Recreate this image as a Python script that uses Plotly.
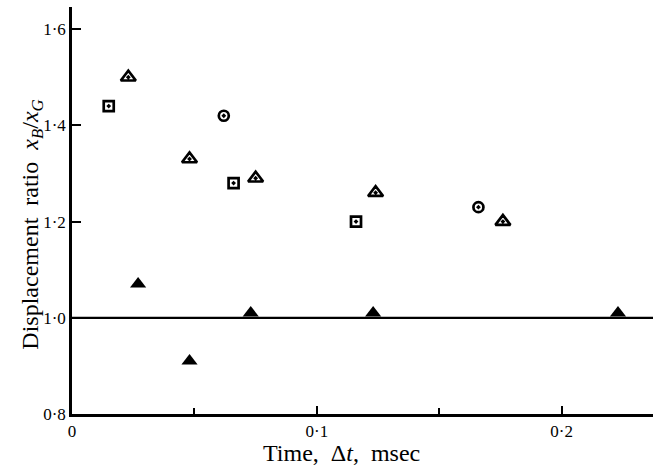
import plotly.graph_objects as go

# Data
tri_open_x = [0.023, 0.048, 0.075, 0.124, 0.176]
tri_open_y = [1.50, 1.33, 1.29, 1.26, 1.20]
sq_x = [0.015, 0.066, 0.116]
sq_y = [1.44, 1.28, 1.20]
circ_x = [0.062, 0.166]
circ_y = [1.42, 1.23]
tri_fill_x = [0.027, 0.048, 0.073, 0.123, 0.223]
tri_fill_y = [1.07, 0.91, 1.01, 1.01, 1.01]

x_ticks = [0, 0.1, 0.2]
x_ticklabels = ["0", "0·1", "0·2"]
y_ticks = [0.8, 1.0, 1.2, 1.4, 1.6]
y_ticklabels = ["0·8", "1·0", "1·2", "1·4", "1·6"]
x_minor = [0.05, 0.15]
ref_level = 1.0

XMAX = 0.2373
YMIN, YMAX = 0.8, 1.646
FONT = "Liberation Serif"
SP = "\u2002"

fig = go.Figure()
mk_line = dict(color="black", width=2.7)
fig.add_trace(go.Scatter(x=tri_open_x, y=tri_open_y, mode="markers",
                         marker=dict(symbol="triangle-up-open-dot", size=13, color="black", line=mk_line)))
fig.add_trace(go.Scatter(x=sq_x, y=sq_y, mode="markers",
                         marker=dict(symbol="square-open-dot", size=10, color="black", line=mk_line)))
fig.add_trace(go.Scatter(x=circ_x, y=circ_y, mode="markers",
                         marker=dict(symbol="circle-open-dot", size=10, color="black", line=mk_line)))
fig.add_trace(go.Scatter(x=tri_fill_x, y=tri_fill_y, mode="markers",
                         marker=dict(symbol="triangle-up", size=14, color="black", line=dict(width=0))))

fig.add_shape(type="line", xref="x", yref="y", x0=0, x1=XMAX, y0=ref_level, y1=ref_level,
              line=dict(color="black", width=2.2))

fig.update_layout(
    width=653, height=466,
    margin=dict(l=72, r=0, t=7, b=52),
    paper_bgcolor="white", plot_bgcolor="white",
    showlegend=False,
    font=dict(family=FONT, size=17, color="black"),
    xaxis=dict(range=[0, XMAX], showgrid=False, zeroline=False,
               showline=True, linecolor="black", linewidth=2.5,
               tickmode="array", tickvals=x_ticks, ticktext=x_ticklabels,
               ticks="inside", ticklen=8, tickwidth=2, tickcolor="black",
               tickfont=dict(family=FONT, size=17),
               minor=dict(tickmode="array", tickvals=x_minor, ticks="inside",
                          ticklen=6, tickwidth=1.5, tickcolor="black", showgrid=False)),
    yaxis=dict(range=[YMIN, YMAX], showgrid=False, zeroline=False,
               showline=True, linecolor="black", linewidth=2.5,
               tickmode="array", tickvals=y_ticks, ticktext=y_ticklabels,
               ticks="inside", ticklen=9, tickwidth=2, tickcolor="black",
               tickfont=dict(family=FONT, size=17)),
)

fig.add_annotation(xref="paper", yref="paper", x=0.463, y=-0.097,
                   text=f"Time,{SP}Δ<i>t</i>,{SP}msec", showarrow=False,
                   xanchor="center", yanchor="middle",
                   font=dict(family=FONT, size=24))
fig.add_annotation(xref="paper", yref="paper", x=-0.069, y=0.465,
                   text=f"Displacement{SP}ratio{SP}<i>x</i><sub><i>B</i></sub>/<i>x</i><sub><i>G</i></sub>",
                   showarrow=False, textangle=-90, xanchor="center", yanchor="middle",
                   font=dict(family=FONT, size=24))

fig.write_html("out.html", config={"displayModeBar": False})

# remove default page margin so the figure sits at the window's top-left corner
with open("out.html", encoding="utf-8") as f:
    html = f.read()
html = html.replace("<head>", "<head><style>html,body{margin:0;padding:0;overflow:hidden}</style>", 1)
with open("out.html", "w", encoding="utf-8") as f:
    f.write(html)
